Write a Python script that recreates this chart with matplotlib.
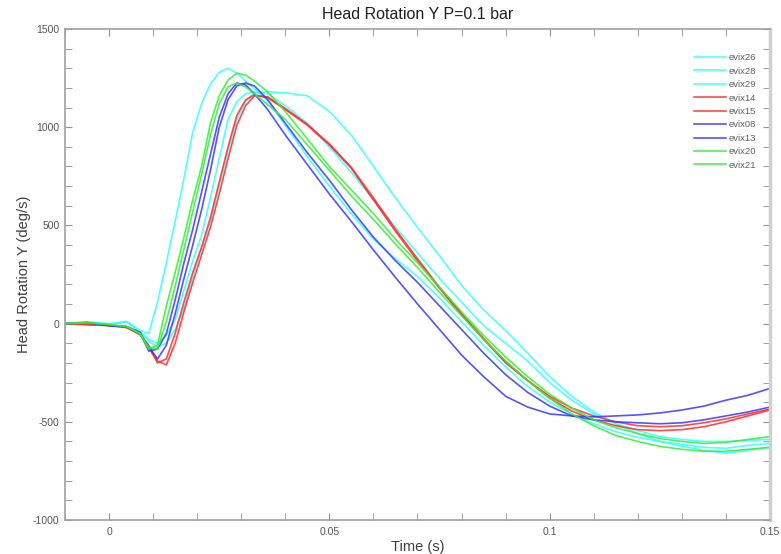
import numpy as np
import matplotlib
matplotlib.use("Agg")
import matplotlib.pyplot as plt
from matplotlib.ticker import MultipleLocator, FuncFormatter

plt.rcParams['font.family'] = ['Liberation Sans', 'DejaVu Sans']
plt.rcParams['axes.unicode_minus'] = False

# time samples (s)
t = [-0.01, -0.005, 0.0, 0.004, 0.007, 0.009, 0.011, 0.013, 0.015, 0.017, 0.019,
     0.021, 0.023, 0.025, 0.027, 0.029, 0.031, 0.033, 0.036,
     0.04, 0.045, 0.05, 0.055, 0.06, 0.065, 0.07, 0.075, 0.08, 0.085, 0.09, 0.095,
     0.1, 0.105, 0.11, 0.115, 0.12, 0.125, 0.13, 0.135, 0.14, 0.145, 0.15]

# head rotation Y (deg/s)
evix26 = [0, 10, -5, 10, -35, -50, 110, 310, 520, 740, 975,
          1120, 1220, 1280, 1300, 1275, 1235, 1195, 1135,
          1010, 850, 700, 560, 430, 330, 240, 130, 10, -110, -220, -320,
          -400, -460, -510, -550, -580, -600, -615, -630, -635, -620, -610]
evix28 = [0, 8, 0, 10, -40, -80, -100, -60, 20, 170, 320,
          450, 640, 840, 1040, 1130, 1170, 1180, 1170,
          1110, 1020, 900, 770, 630, 490, 360, 230, 110, -10, -100, -190,
          -300, -390, -460, -510, -545, -575, -590, -600, -600, -595, -590]
evix29 = [0, 5, -5, 10, -40, -90, -120, -100, -30, 80, 240,
          380, 520, 700, 880, 1040, 1130, 1175, 1180,
          1175, 1160, 1080, 960, 800, 640, 490, 345, 195, 70, -35, -150,
          -270, -370, -450, -510, -560, -600, -625, -645, -660, -645, -630]
evix14 = [0, -5, -10, -20, -55, -120, -200, -180, -50, 110, 260,
          390, 540, 720, 900, 1060, 1140, 1165, 1150,
          1090, 1010, 910, 790, 630, 470, 320, 180, 45, -80, -200, -290,
          -370, -430, -470, -500, -520, -525, -520, -505, -485, -460, -435]
evix15 = [0, -5, -10, -20, -55, -110, -190, -210, -100, 60, 210,
          350, 490, 660, 840, 1010, 1110, 1160, 1155,
          1095, 1015, 915, 795, 640, 480, 330, 185, 50, -75, -195, -290,
          -380, -445, -490, -520, -540, -545, -540, -525, -500, -470, -440]
evix08 = [0, 5, -10, -15, -45, -140, -130, -50, 120, 310, 480,
          670, 860, 1050, 1170, 1225, 1215, 1170, 1090,
          960, 810, 660, 520, 375, 235, 100, -30, -160, -270, -370, -425,
          -460, -470, -475, -470, -465, -455, -440, -420, -390, -365, -330]
evix13 = [0, 5, -10, -15, -45, -120, -180, -110, 50, 230, 400,
          580, 780, 1000, 1140, 1210, 1225, 1210, 1140,
          1020, 870, 730, 580, 440, 320, 210, 90, -30, -150, -260, -350,
          -420, -470, -490, -500, -505, -510, -505, -490, -470, -450, -425]
evix20 = [0, 5, -5, -15, -50, -130, -110, 90, 260, 440, 630,
          800, 1020, 1160, 1240, 1275, 1265, 1235, 1180,
          1080, 940, 800, 680, 560, 430, 310, 185, 60, -60, -170, -270,
          -360, -430, -490, -530, -560, -585, -600, -610, -605, -590, -575]
evix21 = [0, 5, -5, -15, -50, -120, -130, 10, 190, 380, 570,
          760, 960, 1120, 1205, 1225, 1205, 1170, 1115,
          1040, 910, 780, 650, 530, 405, 285, 160, 40, -80, -190, -290,
          -380, -460, -520, -570, -600, -625, -640, -650, -650, -640, -630]

series = [("evix26", evix26, '#33ffff'), ("evix28", evix28, '#33ffff'),
          ("evix29", evix29, '#33ffff'), ("evix14", evix14, '#ff2a2a'),
          ("evix15", evix15, '#ff2a2a'), ("evix08", evix08, '#3535ff'),
          ("evix13", evix13, '#3535ff'), ("evix20", evix20, '#33ee33'),
          ("evix21", evix21, '#33ee33')]

fig = plt.figure(figsize=(7.81, 5.54), dpi=100)
ax = fig.add_axes([65 / 781, 34 / 554, 705 / 781, 491 / 554])

for name, vals, col in series:
    ax.plot(t, vals, color=col, lw=1.2, alpha=0.85, label=name)

ax.set_xlim(-0.01, 0.15)
ax.set_ylim(-1000, 1500)
ax.xaxis.set_major_locator(MultipleLocator(0.05))
ax.xaxis.set_minor_locator(MultipleLocator(0.01))
ax.yaxis.set_major_locator(MultipleLocator(500))
ax.yaxis.set_minor_locator(MultipleLocator(100))
ax.xaxis.set_major_formatter(FuncFormatter(lambda v, p: "0" if abs(v) < 1e-9 else f"{v:g}"))

ax.tick_params(which='both', direction='in', top=True, right=True, length=5,
               color='#909090', labelsize=7.5, labelcolor='#555555')
ax.tick_params(axis='x', pad=5)
ax.tick_params(axis='y', pad=4)
for s in ['left', 'bottom', 'top']:
    ax.spines[s].set_color('#a0a0a0')
    ax.spines[s].set_linewidth(1.2)
ax.spines['right'].set_color('#d0d0d0')
ax.spines['right'].set_linewidth(2.5)

ax.set_xlabel("Time (s)", fontsize=10.5, color='#404040', labelpad=2)
ax.set_ylabel("Head Rotation Y (deg/s)", fontsize=10.5, color='#404040', labelpad=1)
ax.set_title("Head Rotation Y P=0.1 bar", fontsize=11.5, color='#202020', pad=7)

leg = ax.legend(loc='upper right', bbox_to_anchor=(0.993, 0.968), frameon=False,
                fontsize=6.8, handlelength=3.4, labelspacing=0.47, handletextpad=0.3)
for txt in leg.get_texts():
    txt.set_color('#606060')

fig.savefig("out.png", dpi=100)
